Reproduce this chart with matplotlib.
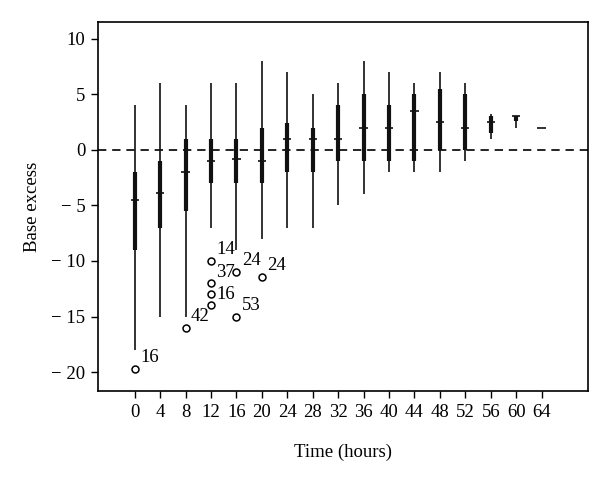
import matplotlib
matplotlib.use("Agg")
import matplotlib.pyplot as plt

plt.rcParams["font.family"] = ["Liberation Serif", "DejaVu Serif"]

# box summary per time point (hours)
times = [0, 4, 8, 12, 16, 20, 24, 28, 32, 36, 40, 44, 48, 52, 56, 60, 64]
whisk_hi = [4, 6, 4, 6, 6, 8, 7, 5, 6, 8, 7, 6, 7, 6, 3.25, 3.0, 2.0]
q3 = [-2, -1, 1, 1, 1, 2, 2.4, 2, 4, 5, 4, 5, 5.5, 5, 3.0, 3.0, 2.0]
median = [-4.5, -3.9, -2, -1, -0.8, -1, 1, 1, 1, 2, 2, 3.5, 2.5, 2, 2.5, 3.0, 2.0]
q1 = [-9, -7, -5.5, -3, -3, -3, -2, -2, -1, -1, -1, -1, 0, 0, 1.5, 2.55, 2.0]
whisk_lo = [-18, -15, -15, -7, -9, -8, -7, -7, -5, -4, -2, -2, -2, -1, 1.0, 2.0, 2.0]

# outliers: time, value, case label
out_t = [0, 8, 12, 12, 12, 12, 16, 16, 20]
out_v = [-19.7, -16, -10, -12, -13, -14, -11, -15, -11.4]
out_lab = ["16", "42", "14", "37", "", "16", "24", "53", "24"]

yticks = [10, 5, 0, -5, -10, -15, -20]
ylabels = ["10", "5", "0", "\u2212 5", "\u2212 10", "\u2212 15", "\u2212 20"]

fig = plt.figure(figsize=(6.0, 4.78), dpi=100)
ax = fig.add_axes([0.163, 0.182, 0.817, 0.772])

ax.axhline(0, color="black", ls=(0, (5, 3.5)), lw=1.2, zorder=1)
ax.vlines(times, whisk_lo, whisk_hi, color="#111111", lw=1.2, zorder=2)
ax.vlines(times, q1, q3, color="#111111", lw=3.0, zorder=3)
ax.hlines(median, [t - 0.65 for t in times], [t + 0.65 for t in times],
          color="#111111", lw=1.2, zorder=4)

ax.plot(out_t, out_v, "o", ms=5, mfc="white", mec="black", mew=1.1, zorder=5)
for t, v, lab in zip(out_t, out_v, out_lab):
    if lab:
        ax.annotate(lab, (t, v), xytext=(4, 8), textcoords="offset points",
                    ha="left", va="center", fontsize=13.5)

ax.set_xlim(-5.8, 71.3)
ax.set_ylim(-21.7, 11.5)
ax.set_xticks(times)
ax.set_xticklabels([str(t) for t in times], fontsize=13.5)
ax.set_yticks(yticks)
ax.set_yticklabels(ylabels, fontsize=13.5)
ax.tick_params(direction="out", length=5, width=1, pad=4)
for s in ax.spines.values():
    s.set_linewidth(1.2)

ax.set_xlabel("Time (hours)", fontsize=13.5, labelpad=17)
ax.set_ylabel("Base excess", fontsize=13.5, labelpad=7)

fig.savefig("out.png", dpi=100)
